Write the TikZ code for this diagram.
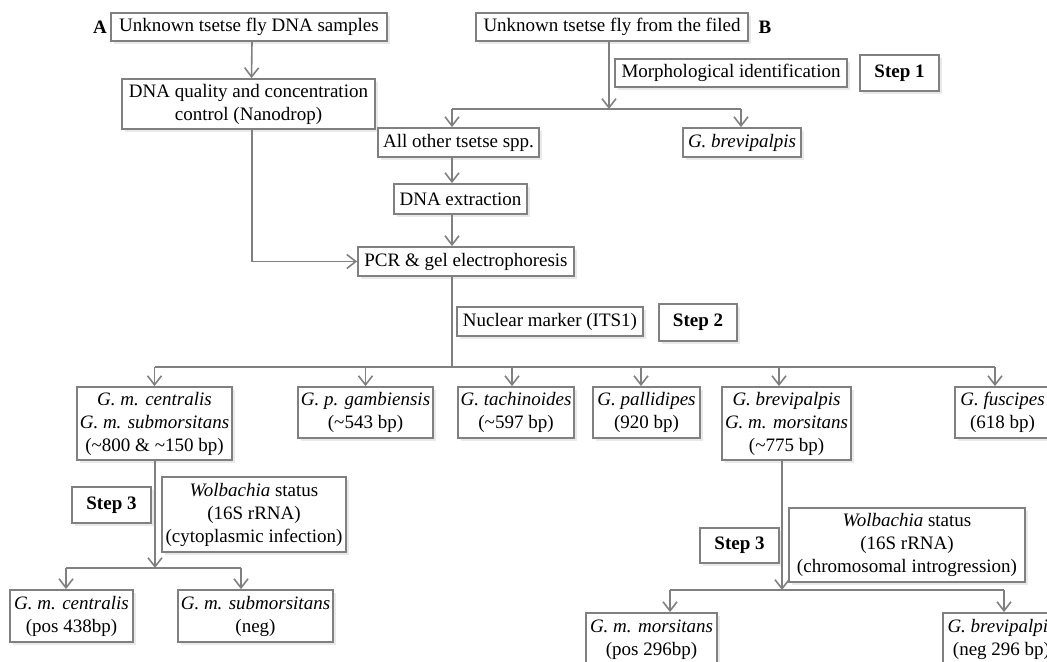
\documentclass[tikz,border=0pt]{standalone}
\usepackage{fontspec}
\setmainfont{Liberation Serif}
\usetikzlibrary{arrows.meta,shadows}

\begin{document}
\begin{tikzpicture}[x=0.5pt,y=-0.5pt,font=\fontsize{9.5}{11.5}\selectfont,
  box/.style={draw=black!50, line width=.9pt, fill=white, align=center, inner sep=0pt,
    drop shadow={shadow xshift=1.5pt, shadow yshift=-1.5pt, opacity=.22, fill=black!40}},
  stepbox/.style={box, font=\fontsize{9.5}{11.5}\selectfont\bfseries},
  line/.style={draw=black!50, line width=.8pt},
  arr/.style={line, -{Straight Barb[length=4.5pt,width=7pt,line width=.8pt]}}]
\useasboundingbox (0,0) rectangle (1047,662);

% side A
\node[font=\fontsize{9.5}{11.5}\selectfont\bfseries] (la) at (100,27) {A};
\node[box, minimum width=138pt, minimum height=14pt] (sa) at (249,27) {Unknown tsetse fly DNA samples};
\node[box, minimum width=126.5pt, minimum height=25pt] (qc) at (248.5,104) {DNA quality and concentration\\control (Nanodrop)};

% side B
\node[box, minimum width=136pt, minimum height=14pt] (sb) at (612,27) {Unknown tsetse fly from the filed};
\node[font=\fontsize{9.5}{11.5}\selectfont\bfseries] (lb) at (765,27) {B};
\node[box, minimum width=116pt, minimum height=14pt] (morph) at (731,73) {Morphological identification};
\node[stepbox, minimum width=39.5pt, minimum height=18pt] (st1) at (899.5,73) {Step 1};
\node[box, minimum width=80.5pt, minimum height=14.5pt] (allo) at (458.5,142.5) {All other tsetse spp.};
\node[box, minimum width=59pt, minimum height=14.5pt] (gbrev) at (742,142.5) {\textit{G. brevipalpis}};
\node[box, minimum width=66.5pt, minimum height=15pt] (dnaext) at (460.5,199) {DNA extraction};
\node[box, minimum width=108pt, minimum height=14.5pt] (pcr) at (466,261.5) {PCR \& gel electrophoresis};
\node[box, minimum width=93pt, minimum height=14.5pt] (nuc) at (550,321.5) {Nuclear marker (ITS1)};
\node[stepbox, minimum width=39pt, minimum height=18.5pt] (st2) at (698,322.5) {Step 2};

% ITS1 results
\node[box, minimum width=77.5pt, minimum height=36.5pt] (g1) at (154.5,423.5) {\textit{G. m. centralis}\\\textit{G. m. submorsitans}\\(\textasciitilde800 \& \textasciitilde150 bp)};
\node[box, minimum width=67.5pt, minimum height=25.5pt] (g2) at (365.5,412.5) {\textit{G. p. gambiensis}\\(\textasciitilde543 bp)};
\node[box, minimum width=58pt, minimum height=25.5pt] (g3) at (516,412.5) {\textit{G. tachinoides}\\(\textasciitilde597 bp)};
\node[box, minimum width=53.5pt, minimum height=25.5pt] (g4) at (646.5,412.5) {\textit{G. pallidipes}\\(920 bp)};
\node[box, minimum width=64.5pt, minimum height=36.5pt] (g5) at (786.5,423.5) {\textit{G. brevipalpis}\\\textit{G. m. morsitans}\\(\textasciitilde775 bp)};
\node[box, minimum width=47.5pt, minimum height=25.5pt] (g6) at (1002.5,412.5) {\textit{G. fuscipes}\\(618 bp)};

% Wolbachia, left
\node[stepbox, minimum width=39.5pt, minimum height=18pt] (st3a) at (111.5,505) {Step 3};
\node[box, minimum width=92pt, minimum height=37.5pt] (wola) at (254,514.5) {\textit{Wolbachia} status\\(16S rRNA)\\(cytoplasmic infection)};
\node[box, minimum width=61.5pt, minimum height=26pt] (outa) at (71.5,616) {\textit{G. m. centralis}\\(pos 438bp)};
\node[box, minimum width=77.5pt, minimum height=26pt] (outb) at (255.5,616) {\textit{G. m. submorsitans}\\(neg)};

% Wolbachia, right
\node[stepbox, minimum width=39.5pt, minimum height=17.5pt] (st3b) at (739.5,545.5) {Step 3};
\node[box, minimum width=118pt, minimum height=37pt] (wolb) at (907,545) {\textit{Wolbachia} status\\(16S rRNA)\\(chromosomal introgression)};
\node[box, minimum width=65.5pt, minimum height=26.5pt] (outc) at (651.5,639.5) {\textit{G. m. morsitans}\\(pos 296bp)};
\node[box, minimum width=58.5pt, minimum height=26.5pt] (outd) at (1001.5,639.5) {\textit{G. brevipalpis}\\(neg 296 bp)};

% connectors
\coordinate (j1a) at (452,109);
\coordinate (j1b) at (741,109);
\coordinate (j1) at (609,109);
\coordinate (j2) at (452,367);
\coordinate (j3) at (155,568);
\coordinate (j4) at (782,590);

\draw[arr] ([xshift=1.5pt]sa.south) -- ([xshift=1.5pt]qc.north);
\draw[arr] ([xshift=1.75pt]qc.south) |- (pcr.west);
\draw[arr] (sb.south -| j1) -- (j1);
\draw[line] (j1a) -- (j1b);
\draw[arr] (j1a) -- (j1a |- allo.north);
\draw[arr] (j1b) -- (j1b |- gbrev.north);
\draw[arr] (allo.south -| j1a) -- (dnaext.north -| j1a);
\draw[arr] (dnaext.south -| j1a) -- (pcr.north -| j1a);
\draw[line] (pcr.south -| j2) -- (j2);
\foreach \n/\s in {g1/0,g2/0,g3/-2,g4/-2.75,g5/-3.75,g6/-3.75}{
  \coordinate (t\n) at ([xshift=\s pt]\n.north);
  \draw[arr] (t\n |- j2) -- (t\n);
}
\draw[line] (tg1 |- j2) -- (tg6 |- j2);

\draw[arr] (g1.south -| j3) -- (j3);
\foreach \n/\s in {outa/-2.75,outb/-7.25}{
  \coordinate (t\n) at ([xshift=\s pt]\n.north);
  \draw[arr] (t\n |- j3) -- (t\n);
}
\draw[line] (touta |- j3) -- (toutb |- j3);

\draw[arr] (g5.south -| j4) -- (j4);
\foreach \n/\s in {outc/9.25,outd/1.25}{
  \coordinate (t\n) at ([xshift=\s pt]\n.north);
  \draw[arr] (t\n |- j4) -- (t\n);
}
\draw[line] (toutc |- j4) -- (toutd |- j4);
\end{tikzpicture}
\end{document}
